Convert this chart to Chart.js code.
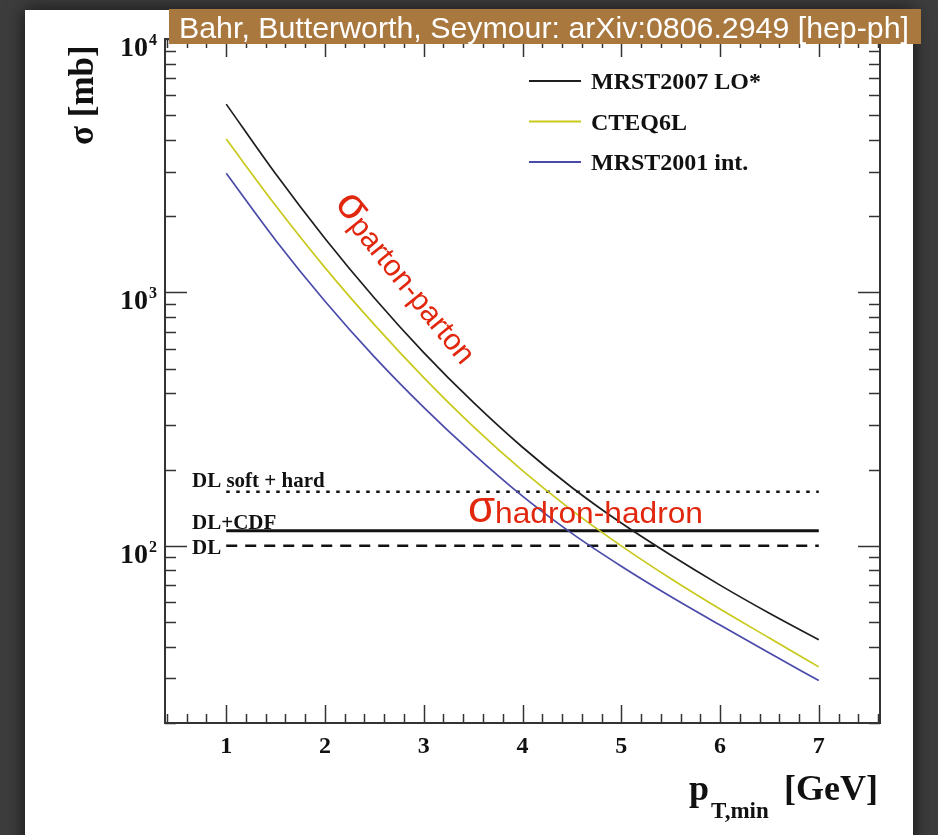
<!DOCTYPE html>
<html>
<head>
<meta charset="utf-8">
<script src="https://cdn.jsdelivr.net/npm/chart.js@4.4.0/dist/chart.umd.min.js"></script>
<style>
  html, body { margin: 0; padding: 0; background: #3d3d3d; overflow: hidden; }
  canvas { display: block; }
</style>
</head>
<body>
<canvas id="chart" width="938" height="835"></canvas>
<script>
// --- DATA ---
const ptMin = [1, 1.5, 2, 2.5, 3, 3.5, 4, 4.5, 5, 5.5, 6, 6.5, 7];
const sigmaMRST2007 = [5534, 2938, 1633, 951, 579, 369, 245, 170, 123, 92, 70, 54.2, 42.6];
const sigmaCTEQ6L   = [4027, 2203, 1253, 746, 461, 296, 198, 138, 100, 74.3, 56.3, 43.3, 33.3];
const sigmaMRST2001 = [2951, 1607, 923, 557, 352, 231, 157, 112, 83.1, 63.1, 48.7, 37.8, 29.4];

const pdfNames = ['MRST2007 LO*', 'CTEQ6L', 'MRST2001 int.'];
const hadronNames = ['DL soft + hard', 'DL+CDF', 'DL'];
const hadronValues = [163.5, 114.6, 100];
const hadronRange = [1, 7];

const xTickLabels = ['1', '2', '3', '4', '5', '6', '7'];
const yDecades = [100, 1000, 10000];
const yDecadeExp = ['2', '3', '4'];

// --- STYLE ---
const SERIF = '"Liberation Serif", "DejaVu Serif", serif';
const SANS = '"Liberation Sans", Arial, sans-serif';
const pdfColors = ['#1e1e1e', '#c9c91c', '#4a4aaa'];
const hadronDash = [[3.5, 6.5], [], [11, 8]];
const hadronWidth = [2.5, 3, 2.5];
const RED = '#e2270f';

function pts(ys) { return ptMin.map((x, i) => ({ x: x, y: ys[i] })); }

const datasets = [sigmaMRST2007, sigmaCTEQ6L, sigmaMRST2001].map((s, i) => ({
    label: pdfNames[i],
    data: pts(s),
    borderColor: pdfColors[i],
    borderWidth: 1.7,
    pointRadius: 0,
    cubicInterpolationMode: 'monotone',
    fill: false
}));

hadronValues.forEach((v, i) => {
    datasets.push({
        label: hadronNames[i],
        data: hadronRange.map(x => ({ x: x, y: v })),
        borderColor: '#111',
        borderWidth: hadronWidth[i],
        borderDash: hadronDash[i],
        pointRadius: 0,
        fill: false
    });
});

function line(ctx, x1, y1, x2, y2) {
    ctx.beginPath(); ctx.moveTo(x1, y1); ctx.lineTo(x2, y2); ctx.stroke();
}

// --- fondo, marco, ejes estilo ROOT ---
const rootStyle = {
    id: 'rootStyle',
    beforeDraw(chart) {
        const ctx = chart.ctx;
        ctx.save();
        ctx.fillStyle = '#3d3d3d';
        ctx.fillRect(0, 0, chart.width, chart.height);
        ctx.shadowColor = 'rgba(0,0,0,0.7)';
        ctx.shadowBlur = 18;
        ctx.fillStyle = '#fff';
        ctx.fillRect(25, 10, 888, 840);
        ctx.restore();
    },
    afterDraw(chart) {
        const ctx = chart.ctx;
        const xs = chart.scales.x, ys = chart.scales.y;
        const { left, right, top, bottom } = chart.chartArea;
        ctx.save();

        // ticks
        ctx.strokeStyle = '#333';
        ctx.lineWidth = 1.5;
        for (let i = 0; i < 40; i++) {
            const v = 0.4 + 0.2 * i;
            if (v > 7.61) break;
            const px = Math.round(xs.getPixelForValue(v)) + 0.5;
            const major = Math.abs(v - Math.round(v)) < 1e-6;
            const len = major ? 18 : 9;
            line(ctx, px, bottom, px, bottom - len);
            line(ctx, px, top, px, top + len);
        }
        [10, 100, 1000].forEach(d => {
            for (let m = 1; m <= 9; m++) {
                const v = d * m;
                if (v < 20 || v > 10000) continue;
                const py = Math.round(ys.getPixelForValue(v)) + 0.5;
                const len = m === 1 ? 22 : 11;
                line(ctx, left, py, left + len, py);
                line(ctx, right, py, right - len, py);
            }
        });
        const py4 = Math.round(ys.getPixelForValue(10000)) + 0.5;
        line(ctx, left, py4, left + 22, py4);
        line(ctx, right, py4, right - 22, py4);

        // marco
        ctx.lineWidth = 2;
        ctx.strokeRect(left, top, right - left, bottom - top);

        // etiquetas de ticks
        ctx.fillStyle = '#111';
        ctx.textBaseline = 'alphabetic';
        ctx.font = 'bold 24px ' + SERIF;
        ctx.textAlign = 'center';
        xTickLabels.forEach(t => {
            ctx.fillText(t, xs.getPixelForValue(Number(t)), 753);
        });
        yDecades.forEach((v, i) => {
            const py = ys.getPixelForValue(v);
            ctx.textAlign = 'right';
            ctx.font = 'bold 28px ' + SERIF;
            ctx.fillText('10', 148, py + 17);
            ctx.textAlign = 'left';
            ctx.font = 'bold 16px ' + SERIF;
            ctx.fillText(yDecadeExp[i], 149, py + 6);
        });

        // titulos de ejes
        ctx.textAlign = 'left';
        ctx.font = 'bold 36px ' + SERIF;
        ctx.fillText('p', 689, 800);
        ctx.font = 'bold 23px ' + SERIF;
        ctx.fillText('T,min', 711, 818);
        ctx.font = 'bold 36px ' + SERIF;
        ctx.textAlign = 'right';
        ctx.fillText('[GeV]', 878, 800);

        ctx.save();
        ctx.translate(93, 145);
        ctx.rotate(-Math.PI / 2);
        ctx.textAlign = 'left';
        ctx.font = 'bold 35px ' + SERIF;
        ctx.fillText('\u03c3 [mb]', 0, 0);
        ctx.restore();

        // leyenda
        ctx.textAlign = 'left';
        ctx.font = 'bold 24px ' + SERIF;
        pdfNames.forEach((n, i) => {
            const y = 81 + i * 40.5;
            ctx.strokeStyle = pdfColors[i];
            ctx.lineWidth = 2.2;
            line(ctx, 529, y, 581, y);
            ctx.fillStyle = '#111';
            ctx.fillText(n, 591, y + 8);
        });

        // etiquetas DL
        const dlOff = [-5, -2, 8];
        ctx.font = 'bold 21px ' + SERIF;
        hadronNames.forEach((n, i) => {
            ctx.fillText(n, 192, ys.getPixelForValue(hadronValues[i]) + dlOff[i]);
        });

        // anotaciones en rojo
        ctx.fillStyle = RED;
        ctx.save();
        ctx.translate(468, 522);
        ctx.font = '44px ' + SANS;
        ctx.fillText('\u03c3', 0, 0);
        ctx.font = '30px ' + SANS;
        let w = ctx.measureText('hadron-hadron').width;
        ctx.scale(208 / w, 1);
        ctx.fillText('hadron-hadron', 27 * w / 208, 1);
        ctx.restore();

        ctx.save();
        ctx.translate(334, 204);
        ctx.rotate(51 * Math.PI / 180);
        ctx.font = '44px ' + SANS;
        ctx.fillText('\u03c3', 0, 0);
        ctx.font = '30px ' + SANS;
        ctx.fillText('parton-parton', 26, 3);
        ctx.restore();

        // banner
        ctx.fillStyle = '#a9783f';
        ctx.fillRect(169, 9, 752, 35);
        ctx.fillStyle = '#fff';
        ctx.font = '30px ' + SANS;
        const txt = 'Bahr, Butterworth, Seymour: arXiv:0806.2949 [hep-ph]';
        w = ctx.measureText(txt).width;
        ctx.save();
        ctx.translate(179, 38);
        ctx.scale(730 / w, 1);
        ctx.textAlign = 'left';
        ctx.fillText(txt, 0, 0);
        ctx.restore();

        ctx.restore();
    }
};

new Chart(document.getElementById('chart'), {
    type: 'line',
    data: { datasets: datasets },
    options: {
        responsive: false,
        animation: false,
        layout: { padding: { left: 165, right: 58, top: 39, bottom: 112 } },
        plugins: { legend: { display: false }, tooltip: { enabled: false } },
        scales: {
            x: { type: 'linear', min: 0.38, max: 7.62, display: false },
            y: { type: 'logarithmic', min: 20, max: 10000, display: false }
        }
    },
    plugins: [rootStyle]
});
</script>
</body>
</html>
